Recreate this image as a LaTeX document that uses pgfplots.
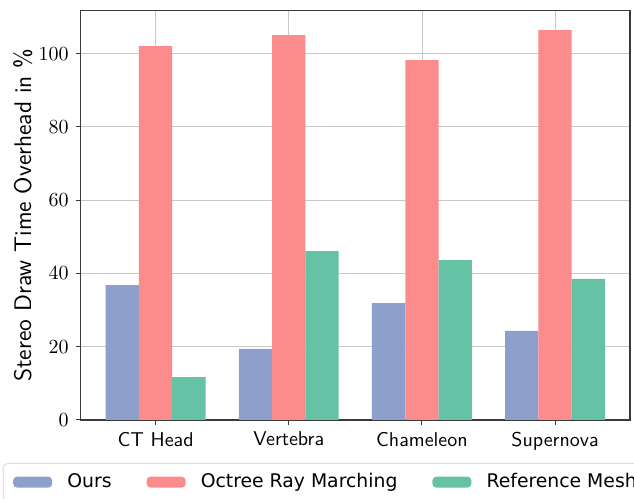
\documentclass[border=0pt]{standalone}
\usepackage{fontspec}
\usepackage{pgfplots}
\pgfplotsset{compat=1.18}
\newfontfamily\legfont{DejaVu Sans}
\definecolor{cours}{HTML}{8DA0CB}
\definecolor{coct}{HTML}{FC8B8B}
\definecolor{cref}{HTML}{66C2A5}
\definecolor{frame}{HTML}{3A3A3A}
\definecolor{gridc}{HTML}{C8C8C8}
\begin{document}
\begin{tikzpicture}
\begin{axis}[
  name=ax,
  scale only axis,
  width=274.65pt, height=204.65pt,
  xmin=-0.5625, xmax=3.5625,
  ymin=0, ymax=111.7,
  xtick={0,1,2,3},
  xticklabels={CT Head, Vertebra, Chameleon, Supernova},
  xticklabel style={font=\sffamily},
  ytick={0,20,40,60,80,100},
  tick align=outside,
  xtick pos=bottom, ytick pos=left,
  major tick length=2.5pt,
  tick style={frame, line width=0.5pt},
  axis line style={frame, line width=0.7pt},
  grid=major,
  major grid style={gridc, line width=0.4pt},
  ylabel={Stereo Draw Time Overhead in \%},
  ylabel style={font=\sffamily\fontsize{12}{14}\selectfont, at={(axis description cs:-0.1056,0.5)}, anchor=center},
  bar width=0.25,
  ybar,
  legend columns=3,
  legend style={at={(0,0)}, anchor=north west, xshift=-38.85pt, yshift=-21.5pt,
    draw=gray!25, rounded corners=2pt, line width=0.5pt,
    font=\legfont\fontsize{9.4}{11}\selectfont,
    inner xsep=4.85pt, inner ysep=3pt,
    nodes={inner xsep=0pt},
    /tikz/every odd column/.append style={column sep=7.6pt},
    /tikz/every even column/.append style={column sep=17.5pt}},
  legend image code/.code={\fill[#1,draw=none] (0pt,-2.75pt) rectangle (19.5pt,2.75pt);},
]
\addplot[fill=cours, draw=none, bar shift=-0.25] coordinates {(0,36.8) (1,19.4) (2,31.9) (3,24.3)};
\addlegendentry{Ours}
\addplot[fill=coct, draw=none, bar shift=0] coordinates {(0,102.0) (1,105.0) (2,98.2) (3,106.4)};
\addlegendentry{Octree Ray Marching}
\addplot[fill=cref, draw=none, bar shift=0.25] coordinates {(0,11.7) (1,46.1) (2,43.6) (3,38.5)};
\addlegendentry{Reference Mesh}
\end{axis}
\pgfresetboundingbox
\path[use as bounding box] ([shift={(-40.35pt,-39.5pt)}]ax.south west) rectangle ([shift={(2pt,5.35pt)}]ax.north east);
\end{tikzpicture}
\end{document}
